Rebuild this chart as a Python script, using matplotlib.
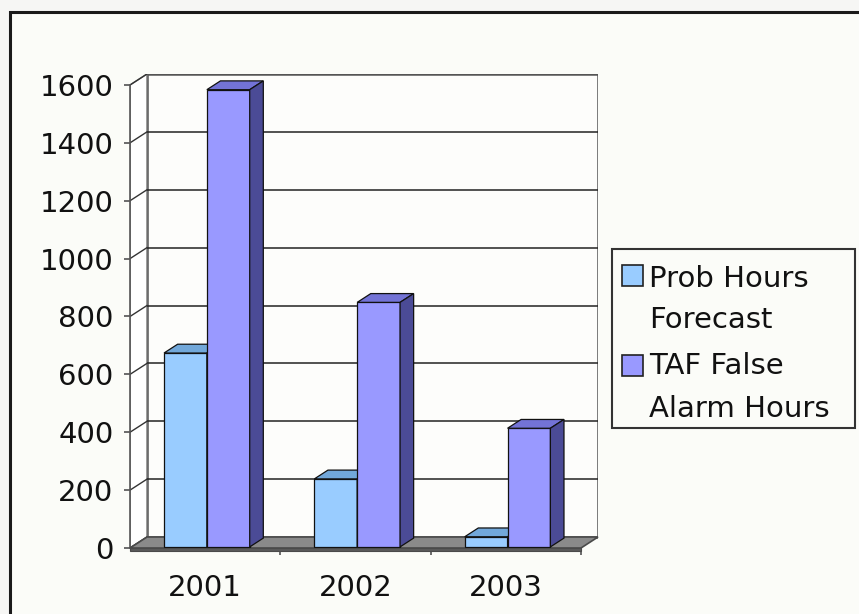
import numpy as np
import matplotlib
matplotlib.use("Agg")
import matplotlib.pyplot as plt
from matplotlib.patches import Polygon, Rectangle

# data
years = ['2001', '2002', '2003']
prob_hours = [670, 235, 35]
false_alarm = [1580, 845, 410]
series_names = ['Prob Hours\nForecast', 'TAF False\nAlarm Hours']
yticks = list(range(0, 1601, 200))

# colours: front, top, side
front_cols = ['#99ccff', '#9999ff']
top_cols = ['#72a8da', '#7373d6']
side_cols = ['#5a86b8', '#4b4b96']

W, H = 859, 614
fig = plt.figure(figsize=(W / 100, H / 100), dpi=100)
fig.patch.set_facecolor('#f6f6f4')
plt.rcParams['font.family'] = 'DejaVu Sans'
FS = 21


def fx(px):
    return px / W


def fy(py):
    return 1 - py / H


# outer chart frame (behind the axes)
fig.patches.append(Rectangle((fx(10), fy(650)), fx(900) - fx(10), fy(12) - fy(650),
                             transform=fig.transFigure, facecolor='#fbfcf8',
                             edgecolor='#1a1a1a', lw=2.2, zorder=-5))

# plot area: front plane maps x -0.5..2.5, y 0..1600; depth adds DX, DY
DX = 0.113
DY = 38
ax = fig.add_axes([fx(130), fy(548), fx(598) - fx(130), fy(74) - fy(548)])
ax.set_xlim(-0.5, 2.5 + DX)
ax.set_ylim(0, 1600 + DY)
ax.patch.set_visible(False)
for s in ['top', 'right', 'bottom']:
    ax.spines[s].set_visible(False)
ax.spines['left'].set_bounds(0, 1600)
ax.spines['left'].set_color('#555555')
ax.spines['left'].set_linewidth(1.2)

# walls
ax.add_patch(Rectangle((-0.5 + DX, DY), 3, 1600, facecolor='#fdfdfb',
                       edgecolor='#555555', lw=1.8, zorder=1))
ax.add_patch(Polygon([(-0.5, 0), (-0.5 + DX, DY), (-0.5 + DX, 1600 + DY), (-0.5, 1600)],
                     closed=True, facecolor='white', edgecolor='#777777', lw=1, zorder=1))
ax.hlines([v + DY for v in yticks[1:-1]], -0.5 + DX, 2.5 + DX, colors='#222222', lw=1.1, zorder=2)
for v in yticks:
    ax.plot([-0.5, -0.5 + DX], [v, v + DY], color='#333333', lw=1, zorder=2)

# floor
ax.add_patch(Polygon([(-0.5, 0), (2.5, 0), (2.5 + DX, DY), (-0.5 + DX, DY)],
                     closed=True, facecolor='#8a8a8a', edgecolor='#4a4a4a', lw=1.2,
                     zorder=3, clip_on=False))
ax.add_patch(Polygon([(-0.5, 0), (2.5, 0), (2.5, -9), (-0.5, -9)],
                     closed=True, facecolor='#5a5a5a', edgecolor='#4a4a4a', lw=0.8,
                     zorder=3, clip_on=False))

# 3D bars
w = 0.285
d0, d1 = 0.1, 0.9
ddx, ddy = (d1 - d0) * DX, (d1 - d0) * DY
x = np.arange(len(years))
for i, vals in enumerate([prob_hours, false_alarm]):
    xs = x + (i - 0.5) * w + d0 * DX
    ax.bar(xs, vals, width=w, bottom=d0 * DY, color=front_cols[i],
           edgecolor='#111111', lw=0.9, zorder=4 + i)
    for xc, v in zip(xs, vals):
        top = v + d0 * DY
        x0, x1 = xc - w / 2, xc + w / 2
        ax.add_patch(Polygon([(x0, top), (x1, top), (x1 + ddx, top + ddy), (x0 + ddx, top + ddy)],
                             closed=True, facecolor=top_cols[i], edgecolor='#111111',
                             lw=0.9, zorder=4 + i))
        ax.add_patch(Polygon([(x1, d0 * DY), (x1, top), (x1 + ddx, top + ddy), (x1 + ddx, d0 * DY + ddy)],
                             closed=True, facecolor=side_cols[i], edgecolor='#111111',
                             lw=0.9, zorder=4 + i))

# axes ticks
ax.set_yticks(yticks)
ax.tick_params(axis='y', length=4, width=1.1, color='#444444', pad=8,
               labelsize=FS, labelcolor='#111111')
ax.set_xticks(x)
ax.set_xticklabels(years)
ax.set_xticks([0.5, 1.5, 2.5], minor=True)
ax.tick_params(axis='x', which='major', length=0, pad=19, labelsize=FS, labelcolor='#111111')
ax.tick_params(axis='x', which='minor', length=5, width=1.1, color='#444444')

# legend drawn by hand so the swatch sits beside the first line of each label
fig.patches.append(Rectangle((fx(612), fy(428)), fx(855) - fx(612), fy(249) - fy(428),
                             transform=fig.transFigure, facecolor='#fbfcf8',
                             edgecolor='#333333', lw=1.5, zorder=5))
sw_top = [265, 355]
line_base = [[287, 328], [374, 417]]
for i, name in enumerate(series_names):
    fig.patches.append(Rectangle((fx(622), fy(sw_top[i] + 21)), fx(643) - fx(622),
                                 fy(sw_top[i]) - fy(sw_top[i] + 21),
                                 transform=fig.transFigure, facecolor=front_cols[i],
                                 edgecolor='#222222', lw=1.2, zorder=6))
    for j, part in enumerate(name.split('\n')):
        fig.text(fx(649), fy(line_base[i][j]), part, fontsize=FS, va='baseline',
                 ha='left', color='#111111', zorder=7)

fig.savefig('out.png', dpi=100, facecolor=fig.get_facecolor())
